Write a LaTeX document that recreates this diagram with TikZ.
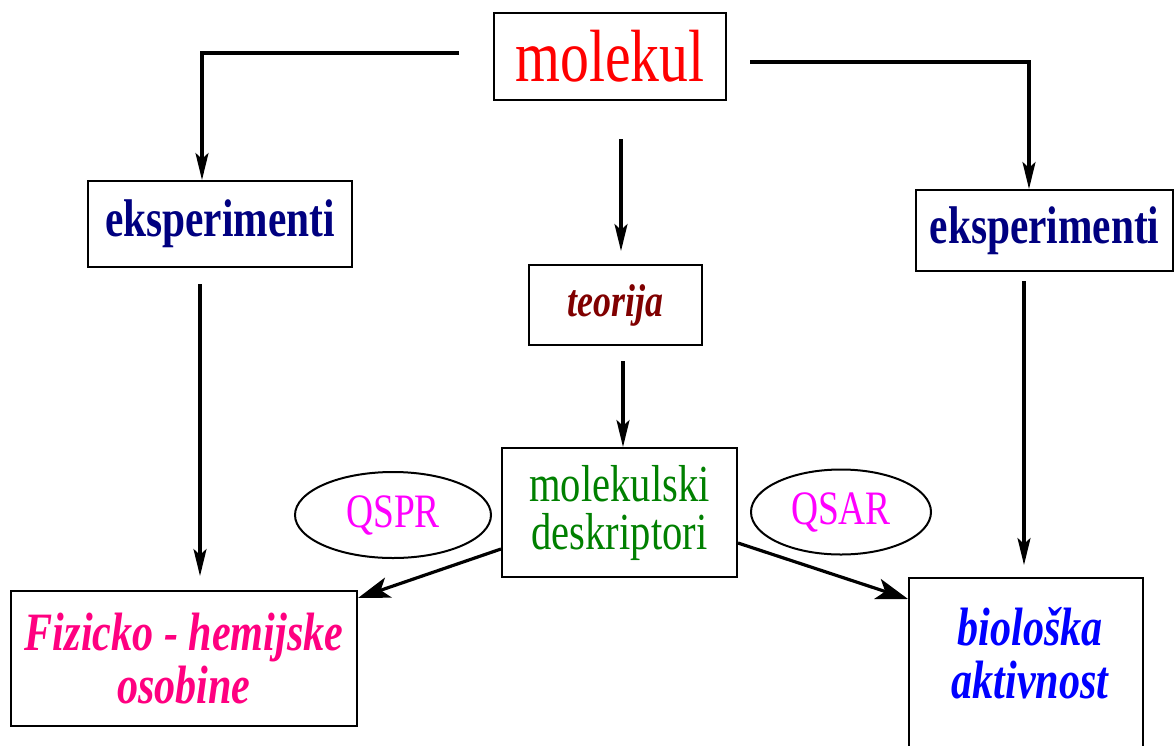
\documentclass[tikz,border=0pt]{standalone}
\usepackage{fontspec}
\setmainfont{Liberation Serif}[FakeStretch=0.78]
\usetikzlibrary{arrows.meta,shapes.geometric}
\definecolor{navyc}{RGB}{0,0,128}
\definecolor{darkredc}{RGB}{128,0,0}
\definecolor{greenc}{RGB}{0,128,0}
\definecolor{magc}{RGB}{255,0,255}
\definecolor{pinkc}{RGB}{255,0,128}
\definecolor{bluec}{RGB}{0,0,255}
\begin{document}
\begin{tikzpicture}[x=1pt,y=-1pt,
  box/.style={draw,line width=2pt,inner sep=0pt,align=center},
  oval/.style={draw,ellipse,line width=2pt,inner sep=0pt,text=magc,font=\fontsize{48}{48}\selectfont},
  arr/.style={line width=3.2pt,-{Stealth[length=27pt,width=13pt,inset=6pt]}},
  arrbig/.style={line width=3.2pt,-{Stealth[length=32pt,width=21pt,inset=8pt]}},
  expt/.style={box,text=navyc,font=\fontsize{53}{53}\bfseries\selectfont}]
\useasboundingbox (0,0) rectangle (1174,745);
\fill[white] (0,0) rectangle (1174,745);

\node[box,minimum width=232pt,minimum height=87pt,text=red,font=\fontsize{74}{74}\selectfont] (mol) at (610,56.5) {molekul};
\node[expt,minimum width=264pt,minimum height=86pt] (eL) at (220,224) {eksperimenti};
\node[expt,minimum width=257pt,minimum height=81pt] (eR) at (1044.5,230.5) {eksperimenti};
\node[box,minimum width=173pt,minimum height=80pt,text=darkredc,font=\fontsize{46}{46}\bfseries\itshape\selectfont] (teo) at (615.5,305) {teorija};
\node[box,minimum width=235pt,minimum height=129pt,text=greenc,font=\fontsize{52}{48}\selectfont] (md) at (619.5,512.5) {molekulski\\deskriptori};
\node[oval,minimum width=196pt,minimum height=86pt] (qspr) at (393,515) {QSPR};
\node[oval,minimum width=180pt,minimum height=85pt] (qsar) at (841,512) {QSAR};
\node[box,minimum width=346pt,minimum height=135pt,text=pinkc,font=\fontsize{54}{53}\bfseries\itshape\selectfont] (fiz) at (184,658.5) {Fizicko - hemijske\\osobine};
\node[box,minimum width=234pt,minimum height=170pt] (bio) at (1026,663) {};
\node[inner sep=0pt,align=center,text=bluec,font=\fontsize{54}{53}\bfseries\itshape\selectfont] (bioT) at (1030,653) {biološka\\aktivnost};

\draw[arr,shorten <=34pt] ([yshift=3.5pt]mol.west) -| ([xshift=-18pt]eL.north);
\draw[arr,shorten <=23pt] ([yshift=-5.5pt]mol.east) -| ([xshift=-15.5pt]eR.north);
\draw[arr,shorten <=38pt,shorten >=13pt] ([xshift=11pt]mol.south) -- ([xshift=5.5pt]teo.north);
\draw[arr,shorten <=15pt] ([xshift=7.5pt]teo.south) -- ([xshift=3.5pt]md.north);
\draw[arr,shorten <=16pt,shorten >=14pt] ([xshift=-20pt]eL.south) -- ([xshift=16pt]fiz.north);
\draw[arr,shorten <=9pt,shorten >=12pt] ([xshift=-20.5pt]eR.south) -- ([xshift=-2pt]bio.north);
\draw[arrbig] ([yshift=-36.5pt]md.west) -- ([yshift=-8pt]fiz.north east);
\draw[arrbig] ([yshift=-30.5pt]md.east) -- ([yshift=-22pt]bio.north west);
\end{tikzpicture}
\end{document}
